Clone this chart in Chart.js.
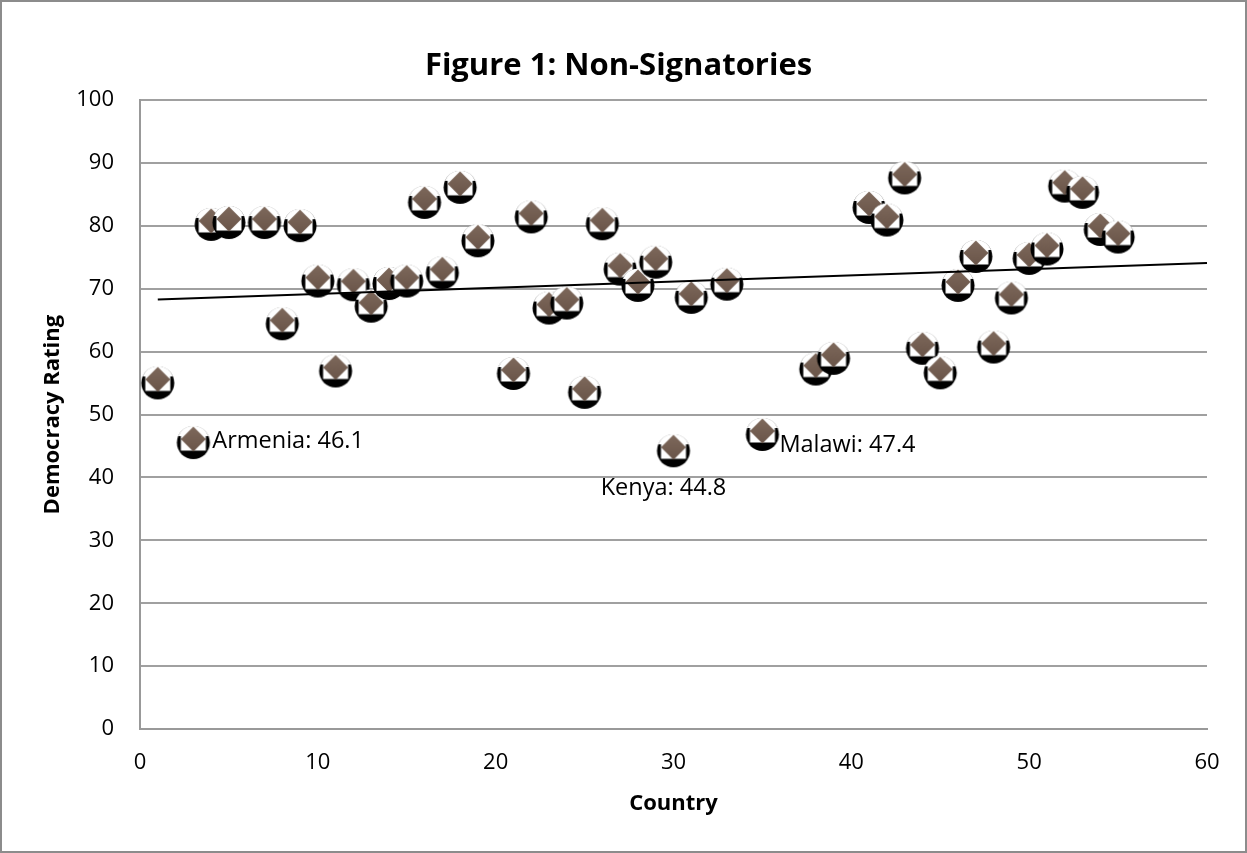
<!DOCTYPE html>
<html>
<head>
<meta charset="utf-8">
<script src="https://cdn.jsdelivr.net/npm/chart.js@4/dist/chart.umd.min.js"></script>
<style>
  html, body { margin: 0; padding: 0; background: #fff; }
  #wrap { position: relative; width: 1247px; height: 853px; }
  #frame { position: absolute; left: 0; top: 0; width: 1247px; height: 853px; box-sizing: border-box; border: 2px solid #8c8c8c; pointer-events: none; }
</style>
</head>
<body>
<div id="wrap">
  <canvas id="chart" width="1247" height="853"></canvas>
  <div id="frame"></div>
</div>
<script>
// country index and democracy rating
const countries = [1, 3, 4, 5, 7, 8, 9, 10, 11, 12, 13, 14, 15, 16, 17, 18, 19, 21, 22, 23, 24, 25, 26, 27, 28, 29, 30, 31, 33, 35,
    38, 39, 41, 42, 43, 44, 45, 46, 47, 48, 49, 50, 51, 52, 53, 54, 55];
const ratings = [55.6, 46.1, 80.8, 81.1, 81.1, 65.0, 80.6, 71.8, 57.5, 71.2, 67.8, 71.4, 71.8, 84.3, 73.1, 86.7, 78.2,
    57.1, 82.0, 67.5, 68.3, 54.1, 80.9, 73.7, 71.1, 74.8, 44.8, 69.2, 71.3, 47.4,
    57.8, 59.5, 83.5, 81.5, 88.2, 61.1, 57.2, 71.1, 75.7, 61.3, 69.1, 75.4, 76.9, 86.9, 85.9, 80.0, 78.8];

// linear trend as it reads off the picture
const trendX = [1, 60];
const trendY = [68.3, 74.1];

const yTicks = [0, 10, 20, 30, 40, 50, 60, 70, 80, 90, 100];
const xTicks = [0, 10, 20, 30, 40, 50, 60];

// labelled points
const calloutCountries = [3, 30, 35];
const calloutNames = ["Armenia", "Kenya", "Malawi"];

const FONT = "'Open Sans', 'Liberation Sans', sans-serif";

// marker: brown diamond sitting on a black "shadow" disc
function makeMarker() {
    const c = document.createElement("canvas");
    c.width = 44; c.height = 56;
    const g = c.getContext("2d");
    const cx = 22, cy = 28;
    g.save();
    g.beginPath();
    g.arc(cx, cy + 3.5, 16.5, 0, Math.PI * 2);
    g.fillStyle = "#000";
    g.fill();
    g.clip();
    g.fillStyle = "#fff";
    g.fillRect(0, 0, 44, cy - 3);
    g.fillRect(cx - 12.5, 0, 25, cy + 11.5);
    g.restore();
    const grad = g.createLinearGradient(cx, cy - 12, cx, cy + 12);
    grad.addColorStop(0, "#7d685b");
    grad.addColorStop(1, "#6a5549");
    g.fillStyle = grad;
    g.beginPath();
    g.moveTo(cx, cy - 12.5);
    g.lineTo(cx + 12.5, cy);
    g.lineTo(cx, cy + 12.5);
    g.lineTo(cx - 12.5, cy);
    g.closePath();
    g.fill();
    return c;
}

// text offsets of the three labels, in pixels from their point
const calloutOffsets = [
    { dx: 19, dy: 2, align: "left" },
    { dx: -10, dy: 41, align: "center" },
    { dx: 17, dy: 14, align: "left" }
];

const calloutPlugin = {
    id: "callouts",
    afterDatasetsDraw(chart) {
        const ctx = chart.ctx;
        const xs = chart.scales.x, ys = chart.scales.y;
        ctx.save();
        ctx.font = "23.5px " + FONT;
        ctx.fillStyle = "#000";
        ctx.textBaseline = "middle";
        calloutCountries.forEach((cx, i) => {
            const v = ratings[countries.indexOf(cx)];
            const px = xs.getPixelForValue(cx), py = ys.getPixelForValue(v);
            const o = calloutOffsets[i];
            ctx.textAlign = o.align;
            ctx.fillText(calloutNames[i] + ": " + v.toFixed(1), px + o.dx, py + o.dy);
        });
        ctx.restore();
    }
};

const marker = makeMarker();

new Chart(document.getElementById("chart"), {
    type: "scatter",
    data: {
        datasets: [{
            label: "Trend",
            type: "line",
            data: trendX.map((x, i) => ({ x: x, y: trendY[i] })),
            borderColor: "#000",
            borderWidth: 2,
            pointRadius: 0,
            fill: false,
            order: 1
        }, {
            label: "Non-Signatories",
            data: countries.map((x, i) => ({ x: x, y: ratings[i] })),
            pointStyle: marker,
            pointRadius: 14,
            order: 2
        }]
    },
    options: {
        responsive: false,
        animation: false,
        layout: { padding: { left: 30, right: 40, top: 0, bottom: 28 } },
        plugins: {
            legend: { display: false },
            tooltip: { enabled: false },
            title: {
                display: true,
                text: "Figure 1: Non-Signatories",
                color: "#000",
                font: { family: FONT, size: 31, weight: "bold" },
                padding: { top: 48, bottom: 15 }
            }
        },
        scales: {
            x: {
                type: "linear",
                min: 0, max: 60,
                afterBuildTicks: s => { s.ticks = xTicks.map(v => ({ value: v })); },
                afterFit: s => { s.height = 853 - 28 - 729; },
                grid: { display: false, drawTicks: false },
                border: { display: true, color: "#999", width: 2 },
                ticks: { color: "#000", padding: 21, font: { family: FONT, size: 22 } },
                title: {
                    display: true, text: "Country", color: "#000",
                    font: { family: FONT, size: 22, weight: "bold" },
                    padding: { top: 0, bottom: 8 }
                }
            },
            y: {
                min: 0, max: 100,
                afterBuildTicks: s => { s.ticks = yTicks.map(v => ({ value: v })); },
                afterFit: s => { s.width = 140 - 30; },
                grid: { color: "#a0a0a0", lineWidth: 2, drawTicks: false },
                border: { display: true, color: "#999", width: 2 },
                ticks: { color: "#000", padding: 26, font: { family: FONT, size: 22 } },
                title: {
                    display: true, text: "Democracy Rating", color: "#000",
                    font: { family: FONT, size: 22, weight: "bold" },
                    padding: { top: 10, bottom: 0 }
                }
            }
        }
    },
    plugins: [calloutPlugin]
});
</script>
</body>
</html>
